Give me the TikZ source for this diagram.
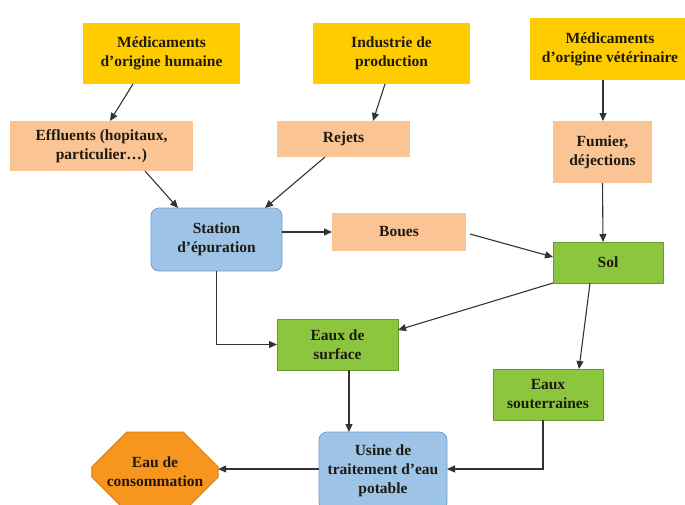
\documentclass[tikz,border=0pt]{standalone}
\usepackage{fontspec}
\setmainfont{Liberation Serif}
\usetikzlibrary{arrows.meta,shapes.misc,calc}
\definecolor{cyel}{HTML}{FFCC00}
\definecolor{cpeach}{HTML}{FBC494}
\definecolor{cblue}{HTML}{9DC3E6}
\definecolor{cblueb}{HTML}{6E9FD2}
\definecolor{cgreen}{HTML}{8CC63E}
\definecolor{cgreenb}{HTML}{6A9A2C}
\definecolor{corange}{HTML}{F7961E}
\definecolor{corangeb}{HTML}{D9780E}
\definecolor{ctext}{HTML}{1E1A10}
\definecolor{cline}{HTML}{333333}
\begin{document}
\begin{tikzpicture}[x=1pt,y=-1pt,
  every node/.style={font=\fontsize{15.5}{19}\selectfont\bfseries, text=ctext, align=center, inner sep=0pt, outer sep=0pt},
  ybox/.style={fill=cyel},
  pbox/.style={fill=cpeach},
  bbox/.style={fill=cblue, draw=cblueb, line width=0.8pt, rounded corners=8pt},
  gbox/.style={fill=cgreen, draw=cgreenb, line width=0.6pt},
  obox/.style={fill=corange, draw=corangeb, line width=0.8pt, chamfered rectangle, chamfered rectangle xsep=20pt, chamfered rectangle ysep=20pt},
  conn/.style={draw=cline, line width=1.1pt, -{Triangle[length=8pt,width=7pt]}}
]
\useasboundingbox (0,0) rectangle (685,504);

\node[ybox, minimum width=157pt, minimum height=61pt] (mh) at (161.5,53.5) {Médicaments\\d'origine humaine};
\node[ybox, minimum width=157pt, minimum height=61pt] (ind) at (391.5,53.5) {Industrie de\\production};
\node[ybox, minimum width=160pt, minimum height=62pt] (mv) at (610,49) {Médicaments\\d'origine vétérinaire};

\node[pbox, minimum width=183pt, minimum height=50pt] (eff) at (101.5,146) {Effluents (hopitaux,\\particulier…)};
\node[pbox, minimum width=133pt, minimum height=36pt] (rej) at (343.5,139) {Rejets};
\node[pbox, minimum width=99pt, minimum height=62pt] (fum) at (602.5,152) {Fumier,\\déjections};

\node[bbox, minimum width=131pt, minimum height=63pt] (sta) at (216.5,239.5) {Station\\d'épuration};
\node[pbox, minimum width=134pt, minimum height=38pt] (bou) at (399,232) {Boues};
\node[gbox, minimum width=110pt, minimum height=41pt] (sol) at (608,262.5) {Sol};

\node[gbox, minimum width=121pt, minimum height=51pt] (esurf) at (337.5,344.5) {Eaux de\\surface};
\node[gbox, minimum width=110pt, minimum height=51pt] (esout) at (548,394.5) {Eaux\\souterraines};

\node[bbox, minimum width=128pt, minimum height=78pt] (usine) at (383,471) {Usine de\\traitement d'eau\\potable};
\node[obox, minimum width=120pt, minimum height=80pt, text=black!85!corange] (conso) at (155,472) {Eau de\\consommation};

\draw[conn] ([xshift=-28.5pt]mh.south) -- ([xshift=8.5pt]eff.north);
\draw[conn] ([xshift=43.5pt]eff.south) -- ([xshift=-38.5pt]sta.north);
\draw[conn] ([xshift=-6.5pt]ind.south) -- ([xshift=29.5pt]rej.north);
\draw[conn] ([xshift=-18.5pt]rej.south) -- ([xshift=48.5pt]sta.north);
\draw[conn] ([xshift=-7pt]mv.south) -- ([xshift=0.5pt]fum.north);
\draw[conn] (fum.south) -- ([xshift=-5pt]sol.north);
\draw[conn] (sta.east |- bou.west) -- (bou.west);
\draw[conn] ([xshift=4pt,yshift=-2pt]bou.east) -- ([yshift=5.5pt]sol.west);
\draw[conn] (sta.south) |- (esurf.west);
\draw[conn] (sol.south west) -- ([yshift=14.5pt]esurf.east);
\draw[conn] ([xshift=-18pt]sol.south) -- ([xshift=31pt]esout.north);
\draw[conn] ([xshift=11.5pt]esurf.south) -- ([xshift=11.5pt]esurf.south |- usine.north);
\draw[conn] ([xshift=-5pt]esout.south) |- ([yshift=2pt]usine.east);
\draw[conn] ([yshift=2pt]usine.west) -- ([yshift=2pt]usine.west -| conso.east);
\end{tikzpicture}
\end{document}
